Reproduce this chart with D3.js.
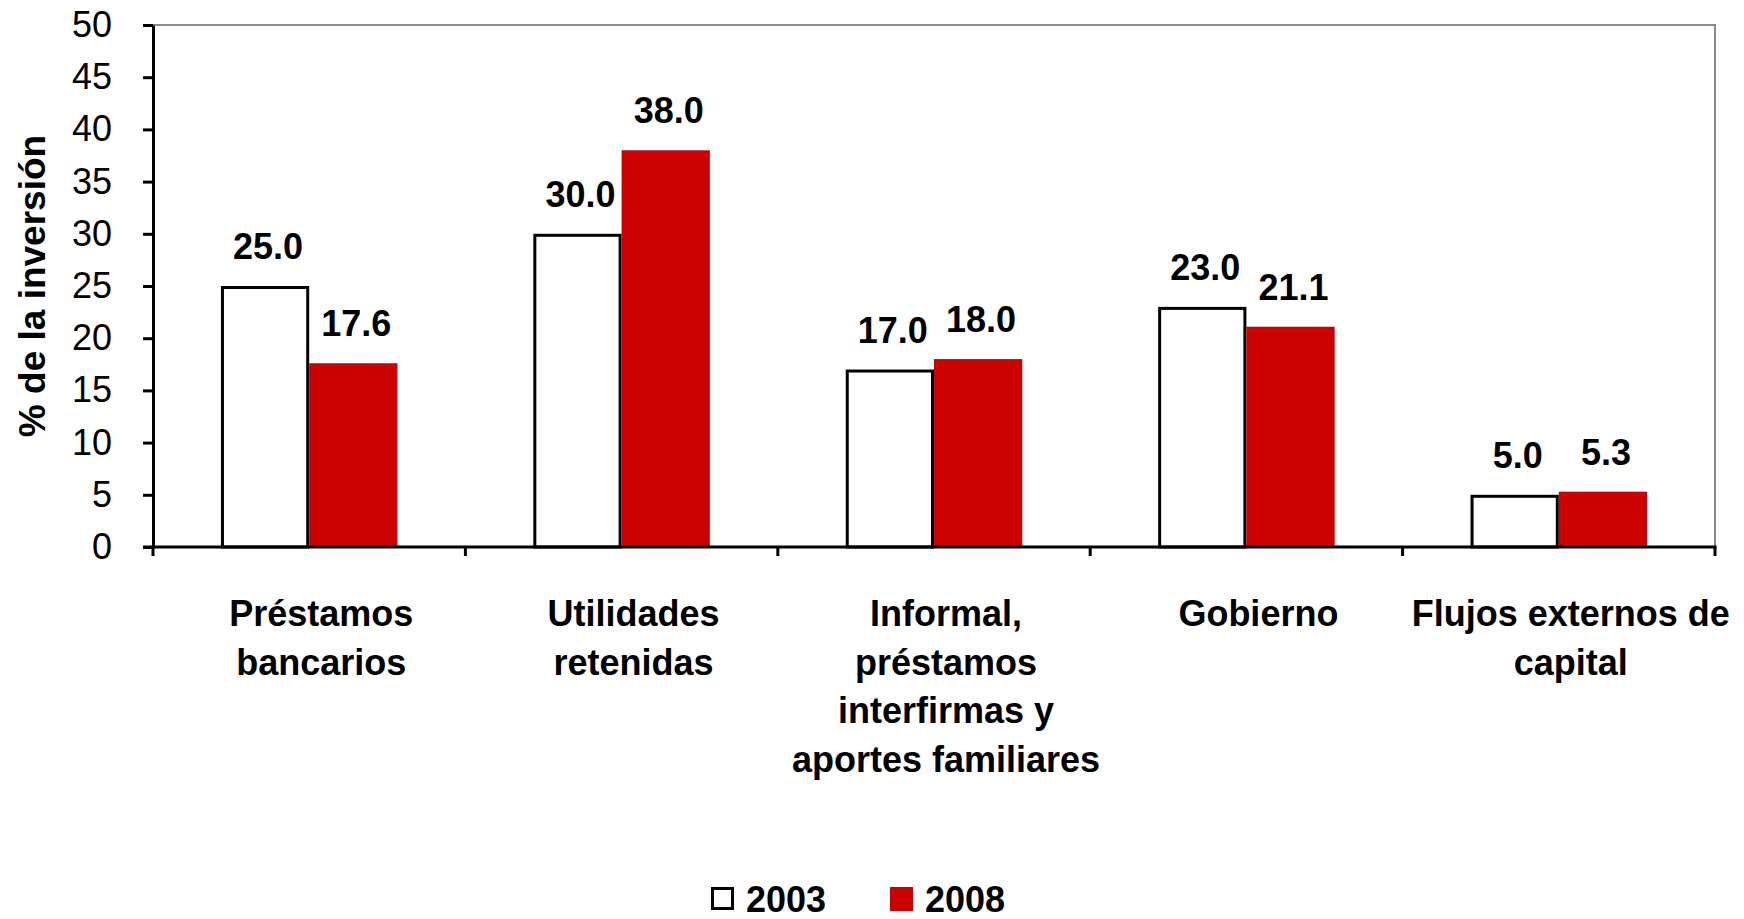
<!DOCTYPE html>
<html>
<head>
<meta charset="utf-8">
<script src="https://cdn.jsdelivr.net/npm/d3@7"></script>
<style>
    body { margin: 0; background: #fff; }
    svg { display: block; font-family: "Liberation Sans", Arial, sans-serif; }
</style>
</head>
<body>
<div id="chart"></div>
<script>
// Data
const categories = ['Préstamos bancarios', 'Utilidades retenidas', 'Informal, préstamos interfirmas y aportes familiares', 'Gobierno', 'Flujos externos de capital'];
const categoryLines = [
    ['Préstamos', 'bancarios'],
    ['Utilidades', 'retenidas'],
    ['Informal,', 'préstamos', 'interfirmas y', 'aportes familiares'],
    ['Gobierno'],
    ['Flujos externos de', 'capital']
];
const series = ['2003', '2008'];
const values2003 = [25.0, 30.0, 17.0, 23.0, 5.0];
const values2008 = [17.6, 38.0, 18.0, 21.1, 5.3];
const yTicks = [0, 5, 10, 15, 20, 25, 30, 35, 40, 45, 50];
const yTitle = '% de la inversión';

document.addEventListener('DOMContentLoaded', () => {
    const width = 1744;
    const height = 919;
    const plot = { left: 153, right: 1715, top: 25, bottom: 547 };

    const svg = d3.select('#chart')
        .append('svg')
        .attr('width', width)
        .attr('height', height);

    const x0 = d3.scaleBand()
        .domain(categories)
        .range([plot.left, plot.right])
        .paddingInner(0.435)
        .paddingOuter(0.2175);

    const x1 = d3.scaleBand()
        .domain(series)
        .range([0, x0.bandwidth()]);

    const y = d3.scaleLinear()
        .domain([0, 50])
        .range([plot.bottom, plot.top]);

    const colors = { '2003': '#ffffff', '2008': '#cc0000' };

    // plot border (top + right, grey)
    svg.append('path')
        .attr('d', `M${plot.left},${plot.top}H${plot.right}V${plot.bottom}`)
        .attr('fill', 'none')
        .attr('stroke', '#8c8c8c')
        .attr('stroke-width', 2);

    const rows = categories.map((c, i) => ({
        category: c,
        values: [
            { key: '2003', value: values2003[i] },
            { key: '2008', value: values2008[i] }
        ]
    }));

    const group = svg.append('g')
        .selectAll('g')
        .data(rows)
        .join('g')
        .attr('transform', d => `translate(${x0(d.category)},0)`);

    group.selectAll('rect')
        .data(d => d.values)
        .join('rect')
        .attr('x', d => x1(d.key) + (d.key === '2003' ? 1.5 : 0))
        .attr('y', d => y(d.value) + (d.key === '2003' ? 1.5 : 0))
        .attr('width', d => x1.bandwidth() - (d.key === '2003' ? 3 : 0))
        .attr('height', d => y(0) - y(d.value) - (d.key === '2003' ? 1.5 : 0))
        .attr('fill', d => colors[d.key])
        .attr('stroke', d => d.key === '2003' ? '#000' : 'none')
        .attr('stroke-width', 3);

    group.selectAll('text.value')
        .data(d => d.values)
        .join('text')
        .attr('class', 'value')
        .attr('x', d => x1(d.key) + x1.bandwidth() / 2 + 3)
        .attr('y', d => y(d.value) - 27)
        .attr('text-anchor', 'middle')
        .attr('font-size', 36)
        .attr('font-weight', 'bold')
        .text(d => d.value.toFixed(1));

    // y axis
    const yAxis = svg.append('g')
        .attr('transform', `translate(${plot.left},0)`)
        .call(d3.axisLeft(y).tickValues(yTicks).tickSize(10).tickPadding(31).tickSizeOuter(0));
    yAxis.select('.domain').attr('stroke', '#000').attr('stroke-width', 3);
    yAxis.selectAll('.tick line').attr('stroke', '#000').attr('stroke-width', 3);
    yAxis.selectAll('.tick text')
        .attr('font-size', 36)
        .attr('font-family', '"Liberation Sans", Arial, sans-serif')
        .attr('fill', '#000');

    // x axis with ticks at category boundaries
    const xAxis = svg.append('g');
    xAxis.append('line')
        .attr('x1', plot.left - 10)
        .attr('x2', plot.right + 1.5)
        .attr('y1', y(0))
        .attr('y2', y(0))
        .attr('stroke', '#000')
        .attr('stroke-width', 3);
    const boundaries = categories.map(c => x0(c) - x0.step() * x0.paddingInner() / 2);
    boundaries.push(plot.right);
    xAxis.selectAll('line.tick')
        .data(boundaries)
        .join('line')
        .attr('class', 'tick')
        .attr('x1', d => d)
        .attr('x2', d => d)
        .attr('y1', y(0))
        .attr('y2', y(0) + 9)
        .attr('stroke', '#000')
        .attr('stroke-width', 3);

    // category labels
    const labels = svg.append('g')
        .selectAll('text')
        .data(categories)
        .join('text')
        .attr('x', d => x0(d) + x0.bandwidth() / 2 + 12)
        .attr('y', 626)
        .attr('text-anchor', 'middle')
        .attr('font-size', 36)
        .attr('font-weight', 'bold');
    labels.selectAll('tspan')
        .data((d, i) => categoryLines[i])
        .join('tspan')
        .attr('x', function () { return this.parentNode.getAttribute('x'); })
        .attr('dy', (d, i) => i === 0 ? 0 : 48.5)
        .text(d => d);

    // y title
    svg.append('text')
        .attr('transform', `translate(45,${(plot.top + plot.bottom) / 2}) rotate(-90)`)
        .attr('text-anchor', 'middle')
        .attr('font-size', 37)
        .attr('font-weight', 'bold')
        .text(yTitle);

    // legend
    const legend = svg.append('g')
        .selectAll('g')
        .data(series)
        .join('g')
        .attr('transform', (d, i) => `translate(${711 + i * 179},887)`);
    legend.append('rect')
        .attr('x', d => d === '2003' ? 1.5 : 0)
        .attr('y', d => d === '2003' ? 1.5 : 0)
        .attr('width', d => d === '2003' ? 20 : 23)
        .attr('height', d => d === '2003' ? 20 : 24)
        .attr('fill', d => colors[d])
        .attr('stroke', d => d === '2003' ? '#000' : 'none')
        .attr('stroke-width', 3);
    legend.append('text')
        .attr('x', 35)
        .attr('y', 25)
        .attr('font-size', 36)
        .attr('font-weight', 'bold')
        .text(d => d);
});
</script>
</body>
</html>
